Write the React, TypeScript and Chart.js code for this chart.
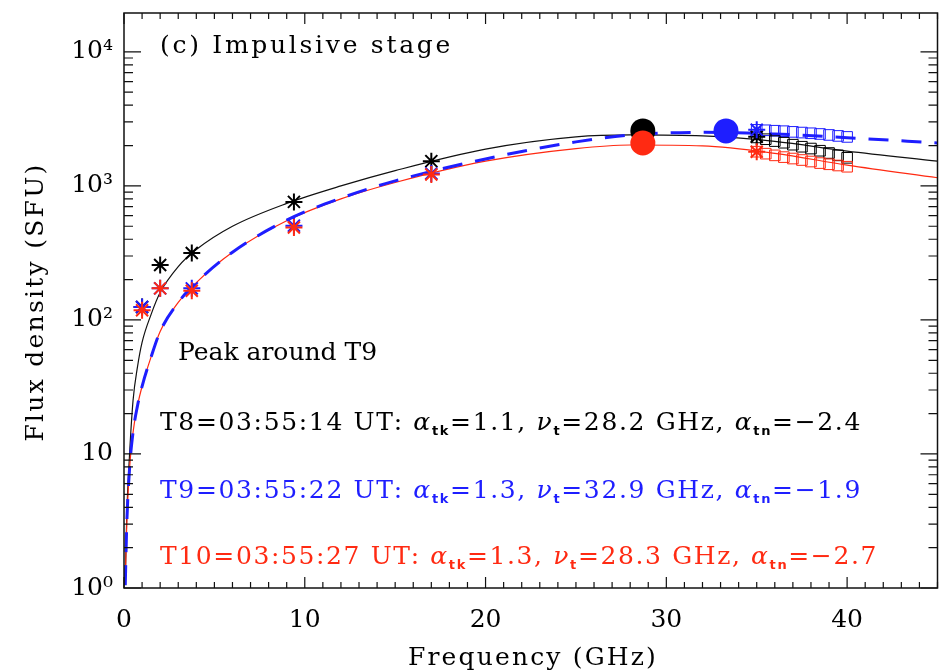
import React, { useEffect, useRef } from 'react';
import { Chart, registerables } from 'chart.js';

Chart.register(...registerables);

// ---------- data ----------
const curveFreq = [0.07, 0.15, 0.3, 0.5, 0.75, 1.0, 1.5, 2.0, 3.0, 4.0, 6.0, 9.0, 12, 15, 20, 25, 28, 32, 36, 40, 45];
const fitT8 = [1.1, 3.4, 9.5, 25, 45, 68, 110, 160, 250, 335, 500, 740, 1000, 1300, 1880, 2320, 2400, 2360, 2150, 1820, 1530];
const fitT9 = [1.05, 2.9, 7.5, 14.5, 23, 32, 53, 82, 135, 190, 320, 555, 810, 1090, 1590, 2130, 2400, 2510, 2440, 2290, 2090];
const fitT10 = [1.15, 2.9, 7.6, 14.5, 23, 32, 53, 82, 135, 190, 320, 550, 800, 1060, 1530, 1900, 2020, 1990, 1750, 1430, 1150];

const starFreq = [1.0, 2.0, 3.75, 9.4, 17.0, 35.0];
const starT8 = [125, 257, 316, 760, 1530, 2330];
const starT9 = [125, 172, 172, 505, 1240, 2620];
const starT10 = [118, 172, 165, 490, 1215, 1800];

const sqFreq = [35, 35.5, 36, 36.5, 37, 37.5, 38, 38.5, 39, 39.5, 40];
const sqT8 = [2300, 2230, 2160, 2100, 2030, 1960, 1900, 1830, 1760, 1690, 1620];
const sqT9 = [2620, 2600, 2580, 2560, 2530, 2500, 2470, 2440, 2400, 2360, 2320];
const sqT10 = [1800, 1740, 1690, 1640, 1600, 1560, 1520, 1480, 1450, 1420, 1390];

const peakFreq = [28.7, 33.3, 28.7];
const peakFlux = [2570, 2570, 2090];

const xTickValues = [0, 10, 20, 30, 40];
const yTickValues = [1, 10, 100, 1000, 10000];
const yTickLabels = ['10⁰', '10', '10²', '10³', '10⁴'];

const X_MIN = 0;
const X_MAX = 45;
const Y_MIN = 1;
const Y_MAX = 19500;

const BLACK = '#000000';
const BLUE = '#1e1eff';
const RED = '#ff2a12';

const panelTitle = '(c) Impulsive stage';
const peakNote = 'Peak around T9';
const xTitle = 'Frequency (GHz)';
const yTitle = 'Flux density (SFU)';

type Seg = { t: string; k: 'n' | 'i' | 'sub' };
const fitLine = (time: string, thick: string, nut: string, thin: string): Seg[] => [
  { t: `${time} UT: `, k: 'n' },
  { t: 'α', k: 'i' },
  { t: 'tk', k: 'sub' },
  { t: `=${thick}, `, k: 'n' },
  { t: 'ν', k: 'i' },
  { t: 't', k: 'sub' },
  { t: `=${nut} GHz, `, k: 'n' },
  { t: 'α', k: 'i' },
  { t: 'tn', k: 'sub' },
  { t: `=${thin}`, k: 'n' },
];
const fitLabelsT8 = fitLine('T8=03:55:14', '1.1', '28.2', '−2.4');
const fitLabelsT9 = fitLine('T9=03:55:22', '1.3', '32.9', '−1.9');
const fitLabelsT10 = fitLine('T10=03:55:27', '1.3', '28.3', '−2.7');

// ---------- helpers ----------
const pts = (xs: number[], ys: number[]) => xs.map((x, i) => ({ x, y: ys[i] }));

const FONT = '"DejaVu Serif", serif';
const fontFor = (k: Seg['k']) =>
  k === 'sub' ? 'bold 13px "DejaVu Sans", sans-serif' : k === 'i' ? `italic 25px ${FONT}` : `25px ${FONT}`;

function drawRich(ctx: CanvasRenderingContext2D, x: number, y: number, segs: Seg[], color: string, target: number) {
  ctx.save();
  (ctx as any).letterSpacing = '0px';
  const widths: number[] = [];
  let W = 0;
  let N = 0;
  for (const s of segs) {
    ctx.font = fontFor(s.k);
    const w = ctx.measureText(s.t).width;
    widths.push(w);
    W += w;
    N += [...s.t].length;
  }
  const sp = Math.max(0, (target - W) / N);
  (ctx as any).letterSpacing = `${sp}px`;
  ctx.fillStyle = color;
  ctx.textAlign = 'left';
  ctx.textBaseline = 'alphabetic';
  let cx = x;
  segs.forEach((s, i) => {
    ctx.font = fontFor(s.k);
    ctx.fillText(s.t, cx, y + (s.k === 'sub' ? 5 : 0));
    cx += widths[i] + [...s.t].length * sp;
  });
  ctx.restore();
}

const framePlugin = {
  id: 'framePlugin',
  afterDraw(chart: any) {
    const { ctx, chartArea } = chart;
    const { left, right, top, bottom } = chartArea;
    const xs = chart.scales.x;
    const ys = chart.scales.y;
    ctx.save();
    ctx.strokeStyle = '#111';
    ctx.lineWidth = 1.5;
    ctx.strokeRect(left, top, right - left, bottom - top);
    ctx.lineWidth = 1.2;
    ctx.beginPath();
    for (let v = X_MIN; v <= X_MAX; v += 1) {
      const px = xs.getPixelForValue(v);
      const len = v % 10 === 0 ? 11 : 6;
      ctx.moveTo(px, bottom);
      ctx.lineTo(px, bottom - len);
      ctx.moveTo(px, top);
      ctx.lineTo(px, top + len);
    }
    for (let k = 0; k <= 4; k++) {
      for (let m = 1; m <= 9; m++) {
        const v = m * Math.pow(10, k);
        if (v > Y_MAX) continue;
        const py = ys.getPixelForValue(v);
        const len = m === 1 ? 17 : 9;
        ctx.moveTo(left, py);
        ctx.lineTo(left + len, py);
        ctx.moveTo(right, py);
        ctx.lineTo(right - len, py);
      }
    }
    ctx.stroke();

    drawRich(ctx, 160, 53, [{ t: panelTitle, k: 'n' }], BLACK, 293);
    drawRich(ctx, 178, 360, [{ t: peakNote, k: 'n' }], BLACK, 192);
    drawRich(ctx, 160, 430, fitLabelsT8, BLACK, 702);
    drawRich(ctx, 160, 498, fitLabelsT9, BLUE, 702);
    drawRich(ctx, 160, 564, fitLabelsT10, RED, 718);

    ctx.save();
    (ctx as any).letterSpacing = '0px';
    ctx.font = `25px ${FONT}`;
    let w = ctx.measureText(xTitle).width;
    let sp = (250 - w) / xTitle.length;
    (ctx as any).letterSpacing = `${sp}px`;
    ctx.fillStyle = BLACK;
    ctx.textAlign = 'left';
    ctx.textBaseline = 'alphabetic';
    ctx.fillText(xTitle, 533 - 125, 665);
    (ctx as any).letterSpacing = '0px';
    w = ctx.measureText(yTitle).width;
    sp = (279 - w) / yTitle.length;
    (ctx as any).letterSpacing = `${sp}px`;
    ctx.translate(43, 302);
    ctx.rotate(-Math.PI / 2);
    ctx.fillText(yTitle, -139.5, 0);
    ctx.restore();
    ctx.restore();
  },
};

export default function App() {
  const ref = useRef<HTMLCanvasElement | null>(null);
  useEffect(() => {
    if (!ref.current) return;
    const lineDs = (label: string, ys: number[], color: string, width: number, dash: number[]) => ({
      label,
      data: pts(curveFreq, ys),
      showLine: true,
      borderColor: color,
      borderWidth: width,
      borderDash: dash,
      pointRadius: 0,
      cubicInterpolationMode: 'monotone' as const,
      fill: false,
    });
    const starDs = (label: string, ys: number[], color: string) => ({
      label,
      data: pts(starFreq, ys),
      showLine: false,
      pointStyle: 'star',
      pointRadius: 8.5,
      pointBorderWidth: 2,
      borderColor: color,
      backgroundColor: color,
    });
    const sqDs = (label: string, ys: number[], color: string) => ({
      label,
      data: pts(sqFreq, ys),
      showLine: false,
      pointStyle: 'rect',
      pointRadius: 7.5,
      pointBorderWidth: 1,
      borderColor: color,
      backgroundColor: 'rgba(0,0,0,0)',
    });
    const chart = new Chart(ref.current, {
      type: 'scatter',
      data: {
        datasets: [
          {
            label: 'peaks',
            data: pts(peakFreq, peakFlux),
            showLine: false,
            pointStyle: 'circle',
            pointRadius: 12.5,
            pointBorderWidth: 0,
            backgroundColor: [BLACK, BLUE, RED],
            borderColor: [BLACK, BLUE, RED],
          } as any,
          starDs('T10 stars', starT10, RED),
          starDs('T9 stars', starT9, BLUE),
          starDs('T8 stars', starT8, BLACK),
          sqDs('T10 squares', sqT10, RED),
          sqDs('T8 squares', sqT8, BLACK),
          sqDs('T9 squares', sqT9, BLUE),
          lineDs('T9 fit', fitT9, BLUE, 3, [20, 13]),
          lineDs('T10 fit', fitT10, RED, 1.2, []),
          lineDs('T8 fit', fitT8, '#111', 1.2, []),
        ],
      },
      options: {
        responsive: false,
        animation: false,
        layout: { padding: { top: 13, right: 3, left: 0, bottom: 0 } },
        plugins: { legend: { display: false }, tooltip: { enabled: false }, title: { display: false } },
        scales: {
          x: {
            type: 'linear',
            min: X_MIN,
            max: X_MAX,
            grid: { display: false, drawTicks: false },
            border: { display: false },
            afterFit: (s: any) => {
              s.height = 83;
              s.paddingLeft = 0;
              s.paddingRight = 0;
            },
            afterBuildTicks: (s: any) => {
              s.ticks = xTickValues.map((v) => ({ value: v }));
            },
            ticks: {
              autoSkip: false,
              maxRotation: 0,
              padding: 17,
              color: BLACK,
              font: { family: 'DejaVu Serif', size: 25 },
              callback: (v: any) => String(v),
            },
          },
          y: {
            type: 'logarithmic',
            min: Y_MIN,
            max: Y_MAX,
            grid: { display: false, drawTicks: false },
            border: { display: false },
            afterFit: (s: any) => {
              s.width = 124;
              s.paddingTop = 0;
              s.paddingBottom = 0;
            },
            afterBuildTicks: (s: any) => {
              s.ticks = yTickValues.map((v) => ({ value: v }));
            },
            ticks: {
              autoSkip: false,
              padding: 11,
              color: BLACK,
              font: { family: 'DejaVu Serif', size: 25 },
              callback: (v: any) => {
                const i = yTickValues.indexOf(Number(v));
                return i >= 0 ? yTickLabels[i] : '';
              },
            },
          },
        },
      },
      plugins: [framePlugin],
    });
    return () => chart.destroy();
  }, []);

  return (
    <div style={{ position: 'fixed', left: 0, top: 0, width: 939, height: 671, overflow: 'hidden', background: '#fff' }}>
      <canvas ref={ref} width={950} height={671} style={{ display: 'block' }} />
    </div>
  );
}
